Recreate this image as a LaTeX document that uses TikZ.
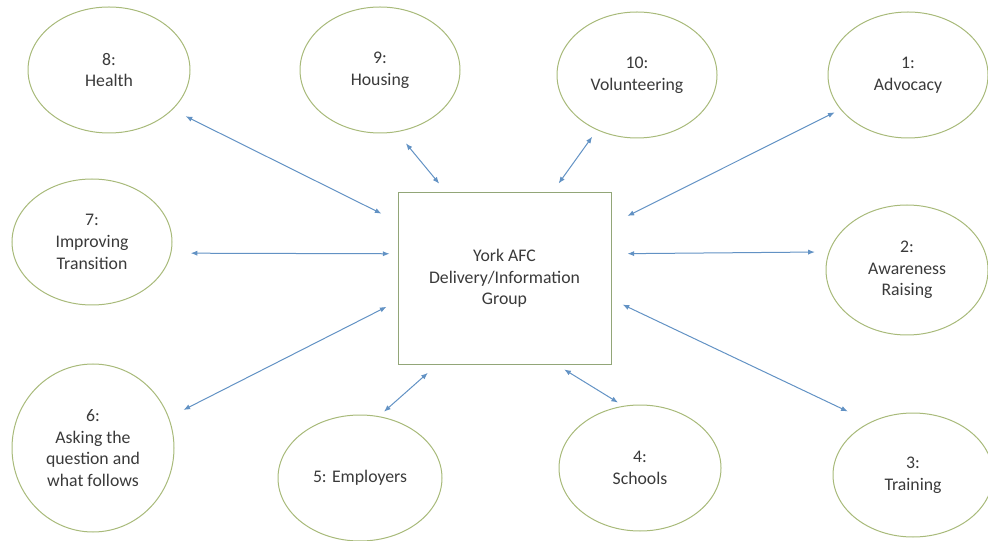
\documentclass[tikz,border=0pt]{standalone}
\usepackage{fontspec}
\setmainfont{Carlito}
\usetikzlibrary{shapes.geometric,arrows.meta}

\tikzset{every picture/.style={line width=0.75pt},
  theme/.style={draw={rgb, 255:red, 168; green, 186; blue, 122 }, ellipse, inner sep=0pt,
    minimum width=120pt, minimum height=94.5pt, align=center,
    text={rgb, 255:red, 58; green, 58; blue, 58 }, font=\fontsize{13.3}{16.3}\selectfont},
  hub/.style={draw={rgb, 255:red, 146; green, 166; blue, 120 }, rectangle, inner sep=0pt,
    minimum width=159.75pt, minimum height=128.25pt, align=center,
    text={rgb, 255:red, 58; green, 58; blue, 58 }, font=\fontsize{13.3}{16.3}\selectfont},
  link/.style={draw={rgb, 255:red, 98; green, 146; blue, 196 },
    {Latex[length=5pt,width=3.9pt]}-{Latex[length=5pt,width=3.9pt]}}
}

\begin{document}
\begin{tikzpicture}[x=0.75pt,y=0.75pt,yscale=-1,xscale=1]
\useasboundingbox (0,0) rectangle (988,541);

%Shape: Rectangle
\node [hub] (york) at (504.5,278.5) {York AFC\\Delivery/Information\\Group};

%Shape: Ellipse
\node [theme, minimum width=121.5pt] (health) at (109,70) {8:\\Health};
%Shape: Ellipse
\node [theme] (housing) at (380,70) {9:\\Housing};
%Shape: Ellipse
\node [theme] (volunteer) at (637,75) {10:\\Volunteering};
%Shape: Ellipse
\node [theme] (advocacy) at (908,75) {1:\\Advocacy};
%Shape: Ellipse
\node [theme] (transition) at (92,242) {7:\\Improving\\Transition};
%Shape: Ellipse
\node [theme, minimum width=121.5pt, minimum height=97.5pt] (awareness) at (907,270) {2:\\Awareness\\Raising};
%Shape: Ellipse
\node [theme, minimum width=121.5pt, minimum height=126pt] (asking) at (93,448) {6:\\Asking the\\question and\\what follows};
%Shape: Ellipse
\node [theme, minimum width=123pt] (employers) at (360,478) {5: Employers};
%Shape: Ellipse
\node [theme, minimum width=121.5pt] (schools) at (640,468) {4:\\Schools};
%Shape: Ellipse
\node [theme, minimum height=93pt] (training) at (913,475) {3:\\Training};

%Straight Lines
\draw [link, shorten <=10.9pt, shorten >=13.4pt] (health.-32) -- (york.152.5);
%Straight Lines
\draw [link, shorten <=10.9pt, shorten >=8.6pt] (housing.-75.5) -- (york.124.8);
%Straight Lines
\draw [link, shorten <=6.1pt, shorten >=8.3pt] (volunteer.-126.5) -- (york.61.2);
%Straight Lines
\draw [link, shorten <=4.8pt, shorten >=13.4pt] (advocacy.-153) -- (york.27.6);
%Straight Lines
\draw [link, shorten <=14.6pt, shorten >=6pt] (transition.-8.7) -- (york.167);
%Straight Lines
\draw [link, shorten <=10.4pt, shorten >=12pt] (awareness.167.7) -- (york.13.5);
%Straight Lines
\draw [link, shorten <=12.2pt, shorten >=9.2pt] (asking.22.1) -- (york.-168.4);
%Straight Lines
\draw [link, shorten <=18.6pt, shorten >=9.2pt] (training.129.1) -- (york.-11.8);
%Straight Lines
\draw [link, shorten <=5.1pt, shorten >=9.5pt] (employers.73.8) -- (york.-128.5);
%Straight Lines
\draw [link, shorten <=4.7pt, shorten >=7.1pt] (schools.105.1) -- (york.-59.5);

\end{tikzpicture}
\end{document}
